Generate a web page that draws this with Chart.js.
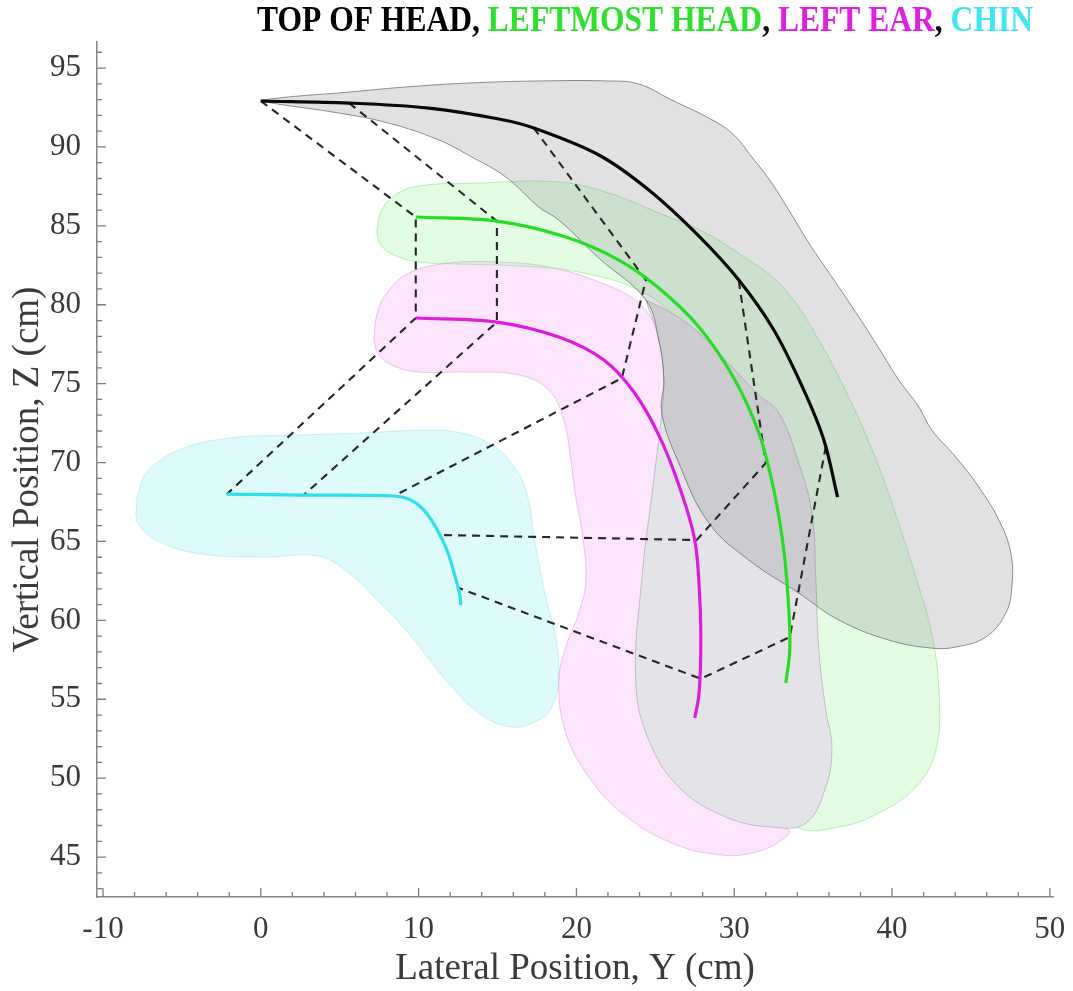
<!DOCTYPE html>
<html><head><meta charset="utf-8">
<script src="https://cdn.jsdelivr.net/npm/chart.js@4.4.1/dist/chart.umd.min.js"></script>
<style>html,body{margin:0;padding:0;background:#fff}#wrap{width:1073px;height:991px;position:relative}</style>
</head><body><div id="wrap"><canvas id="c"></canvas></div>
<script>
// ---------- text ----------
const titleParts = [
  {text:'TOP OF HEAD', color:'#000000'}, {text:', ', color:'#000000'},
  {text:'LEFTMOST HEAD', color:'#2ee02e'}, {text:', ', color:'#000000'},
  {text:'LEFT EAR', color:'#e020e0'}, {text:', ', color:'#000000'},
  {text:'CHIN', color:'#3fe6ee'}
];
const xAxisTitle = 'Lateral Position, Y (cm)';
const yAxisTitle = 'Vertical Position, Z (cm)';
const xTickLabels = [-10,0,10,20,30,40,50];
const yTickLabels = [45,50,55,60,65,70,75,80,85,90,95];

// ---------- trajectories (Y, Z in cm) ----------
const topHeadPath = [[0,92.91],[5.58,92.78],[10.65,92.46],[15.08,91.77],[17.30,91.20],[21.42,89.49],[24.59,87.27],[27.76,84.35],[30.29,81.57],[32.51,78.40],[34.41,74.59],[35.68,71.43],[36.55,67.81]];
const leftmostPath = [[9.82,85.56],[14.96,85.30],[19.33,84.29],[22.69,82.83],[25.22,81.06],[27.76,78.59],[29.97,75.36],[31.56,71.87],[32.51,68.26],[33.14,64.46],[33.46,60.65],[33.52,58.12],[33.27,56.03]];
const leftEarPath = [[9.82,79.16],[14.96,78.90],[18.88,77.95],[21.74,76.50],[23.64,74.47],[25.22,71.74],[26.49,68.57],[27.50,65.09],[27.82,61.29],[27.88,58.12],[27.76,55.27],[27.50,53.81]];
const chinPath = [[-2.15,68.00],[2.72,67.94],[8.43,67.88],[9.51,67.62],[10.33,66.99],[11.09,65.91],[11.79,64.46],[12.29,62.87],[12.61,61.60],[12.67,60.97]];

// ---------- dashed links between matching instants (top, leftmost, ear, chin) ----------
const link1 = [[0,92.91],[9.82,85.56],[9.82,79.16],[-2.15,68.00]];
const link2 = [[5.60,92.78],[14.96,85.30],[14.96,78.90],[2.72,67.94]];
const link3 = [[17.30,91.20],[24.40,81.57],[22.88,75.35],[8.43,67.88]];
const link4 = [[30.29,81.50],[32.00,69.97],[27.62,65.09],[11.30,65.41]];
const link5 = [[35.80,71.00],[33.52,58.94],[27.88,56.30],[12.55,62.05]];

// ---------- shaded corridors ----------
const topHeadRegion = [[0,92.97],[2.41,93.23],[4.94,93.42],[9.19,93.80],[13.18,94.05],[17.62,94.18],[22.05,94.18],[23.95,93.99],[26.05,92.97],[28.39,91.83],[29.85,90.88],[31.12,89.36],[32.38,87.71],[33.46,86.00],[34.73,83.91],[36.19,81.76],[37.90,79.22],[39.16,77.26],[40.43,75.23],[41.70,73.52],[42.52,72.06],[44.04,70.35],[45.50,68.45],[46.77,66.36],[47.53,64.26],[47.59,62.11],[47.21,60.46],[45.94,58.94],[44.04,58.31],[42.52,58.24],[39.80,58.75],[36.63,60.02],[34.09,61.73],[30.93,63.82],[28.39,66.17],[26.49,69.97],[25.41,73.14],[25.54,75.23],[25.22,77.76],[24.40,80.30],[21.42,82.96],[18.88,85.37],[17.62,86.19],[15.53,88.09],[13.37,89.36],[11.28,90.44],[8.11,91.51],[4.94,92.15],[0.70,92.78],[0,92.97]];
const grayBandRegion = [[24.40,80.30],[26.05,79.47],[27.76,78.21],[29.85,76.05],[31.56,74.28],[32.83,73.14],[34.09,69.97],[34.92,66.80],[35.17,62.55],[35.36,58.12],[35.80,54.32],[36.19,51.97],[35.80,49.44],[34.54,47.15],[32.38,46.90],[29.47,47.54],[26.49,49.44],[24.59,52.41],[23.76,56.03],[24.14,62.55],[24.90,68.89],[25.41,73.14],[25.54,75.23],[25.22,77.76],[24.40,80.30]];
const leftmostRegion = [[7.35,84.61],[7.60,85.87],[8.43,86.89],[10.01,87.52],[13.81,87.71],[18.88,87.78],[22.05,87.08],[25.22,85.81],[28.20,84.54],[30.93,82.83],[32.64,81.57],[34.09,79.85],[35.36,77.76],[36.63,75.42],[38.21,72.06],[39.48,68.89],[40.56,65.72],[41.57,62.55],[42.46,59.39],[42.97,55.58],[42.78,51.78],[41.51,49.44],[39.16,47.79],[36.63,46.90],[34.09,46.84],[32.19,48.61],[32.51,54.95],[32.51,63.82],[31.56,70.79],[29.02,75.86],[26.49,79.03],[23.95,80.93],[20.15,82.07],[16.35,82.45],[12.55,82.58],[10.01,82.71],[8.43,83.15],[7.60,83.78],[7.35,84.61]];
const leftEarRegion = [[7.16,77.76],[7.35,79.35],[7.98,80.74],[9.38,82.01],[11.91,82.64],[15.08,82.71],[18.25,82.39],[21.42,81.44],[23.95,80.11],[25.22,78.08],[25.86,75.23],[25.86,71.43],[25.54,67.62],[25.22,63.82],[24.90,58.75],[25.22,53.68],[27.12,49.88],[30.29,47.66],[33.46,46.71],[33.02,46.08],[31.37,45.32],[29.21,45.13],[26.05,45.89],[22.88,47.79],[20.79,50.07],[19.33,52.86],[18.88,56.03],[19.33,58.31],[20.15,60.46],[20.60,62.55],[20.34,65.72],[19.96,67.81],[19.65,70.16],[19.20,72.69],[18.25,74.59],[16.35,75.55],[13.18,75.74],[10.01,75.74],[8.43,76.12],[7.48,76.81],[7.16,77.76]];
const chinRegion = [[-7.92,66.67],[-7.73,68.26],[-7.10,69.52],[-5.20,70.79],[-2.03,71.55],[2.22,71.74],[6.40,71.87],[10.65,72.06],[12.74,71.87],[14.45,71.24],[15.72,70.16],[16.79,68.26],[17.43,64.65],[18.06,61.48],[18.69,58.94],[18.88,56.22],[18.44,54.51],[17.62,53.68],[15.91,53.24],[13.81,54.13],[11.72,56.22],[9.57,58.94],[7.48,61.20],[5.20,63.30],[3.49,64.10],[0.06,64.01],[-4.12,64.26],[-6.65,65.09],[-7.73,66.04],[-7.92,66.67]];

const toXY = arr => arr.map(p => ({x:p[0], y:p[1]}));

function region(data, fill, border, order){
  return {data: toXY(data), showLine:true, fill:'shape', backgroundColor:fill, borderColor:border, borderWidth:1, pointRadius:0, tension:0.4, order};
}
function curve(data, color, order){
  return {data: toXY(data), showLine:true, fill:false, borderColor:color, borderWidth:3.2, pointRadius:0, tension:0.35, order};
}
function link(data){
  return {data: toXY(data), showLine:true, fill:false, borderColor:'#262626', borderWidth:2.1, borderDash:[8,6], pointRadius:0, tension:0, order:3};
}

const innerTicks = {
  id:'innerTicks',
  afterDraw(chart){
    const {ctx, chartArea:a, scales:{x, y}} = chart;
    ctx.save(); ctx.strokeStyle='#7c7c7c'; ctx.lineWidth=1.3; ctx.beginPath();
    for (let v=-10; v<=50; v+=2){ const p=x.getPixelForValue(v); const L=xTickLabels.includes(v)?9:5; ctx.moveTo(p,a.bottom); ctx.lineTo(p,a.bottom-L); }
    for (let v=43; v<=96; v+=1){ const p=y.getPixelForValue(v); const L=yTickLabels.includes(v)?9:5; ctx.moveTo(a.left,p); ctx.lineTo(a.left+L,p); }
    ctx.stroke(); ctx.restore();
  }
};
const multiTitle = {
  id:'multiTitle',
  afterDraw(chart){
    const ctx = chart.ctx; ctx.save();
    ctx.font = 'bold 35px "Liberation Serif"'; ctx.textBaseline='alphabetic';
    const total = titleParts.reduce((s,p)=>s+ctx.measureText(p.text).width, 0);
    const sx = 776/total;
    ctx.translate(257, 31); ctx.scale(sx, 1);
    let cx = 0;
    titleParts.forEach(p=>{ ctx.fillStyle=p.color; ctx.fillText(p.text, cx, 0); cx += ctx.measureText(p.text).width; });
    ctx.restore();
  }
};

new Chart(document.getElementById('c'), {
  type:'scatter',
  data:{datasets:[
    curve(topHeadPath, '#0a0a0a', 1),
    curve(leftmostPath, '#26dc26', 1),
    curve(leftEarPath, '#dc1edc', 1),
    curve(chinPath, '#30dfe8', 1),
    link(link1), link(link2), link(link3), link(link4), link(link5),
    region(topHeadRegion, 'rgba(120,120,128,0.22)', 'rgba(105,105,105,0.75)', 6),
    region(grayBandRegion, 'rgba(228,227,231,1)', 'rgba(185,175,190,0.8)', 7),
    region(leftmostRegion, 'rgba(60,240,60,0.15)', 'rgba(130,225,130,0.55)', 8),
    region(leftEarRegion, 'rgba(240,60,240,0.13)', 'rgba(225,160,225,0.6)', 9),
    region(chinRegion, 'rgba(60,230,240,0.17)', 'rgba(160,230,235,0.55)', 10)
  ]},
  options:{
    responsive:true, maintainAspectRatio:false, animation:false,
    layout:{padding:{top:42, right:20, left:0, bottom:0}},
    plugins:{legend:{display:false}, tooltip:{enabled:false}, title:{display:false}},
    scales:{
      x:{type:'linear', min:-10.38, max:50.2,
        grid:{display:false}, border:{display:true, color:'#858585', width:1.5},
        afterBuildTicks(s){ s.ticks = xTickLabels.map(v=>({value:v})); },
        afterFit(s){ s.height = 94; },
        ticks:{font:{family:'"Liberation Serif"', size:31}, color:'#3a3a3a', padding:6, maxRotation:0},
        title:{display:true, text:xAxisTitle, font:{family:'"Liberation Serif"', size:37}, color:'#3a3a3a', padding:{top:0,bottom:0}}
      },
      y:{type:'linear', min:42.47, max:96.65,
        grid:{display:false}, border:{display:true, color:'#858585', width:1.5},
        afterBuildTicks(s){ s.ticks = yTickLabels.map(v=>({value:v})); },
        afterFit(s){ s.width = 97; },
        ticks:{font:{family:'"Liberation Serif"', size:31}, color:'#3a3a3a', padding:8},
        title:{display:true, text:yAxisTitle, font:{family:'"Liberation Serif"', size:37}, color:'#3a3a3a', padding:{top:6,bottom:0}}
      }
    }
  },
  plugins:[innerTicks, multiTitle]
});
</script>
</body></html>
